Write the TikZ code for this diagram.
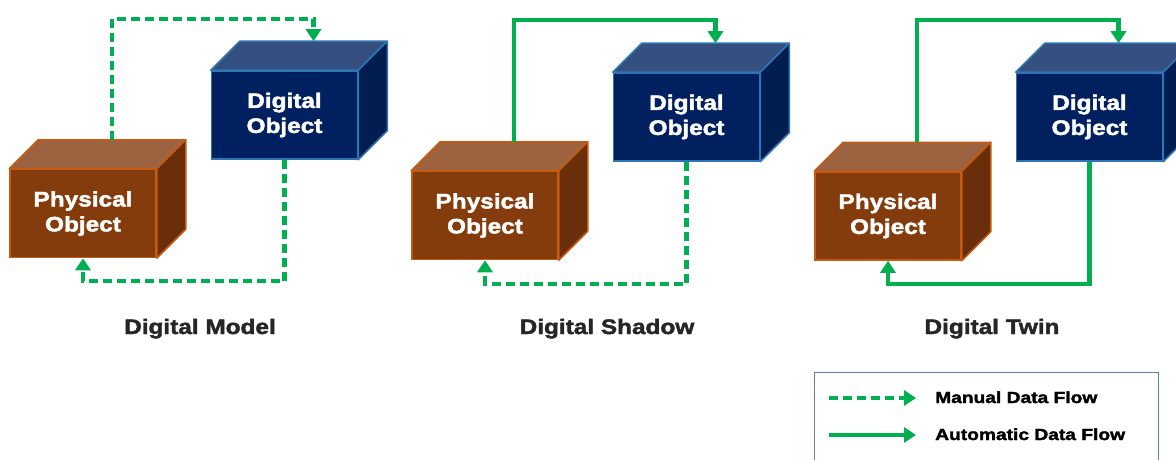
\documentclass[tikz,border=0pt]{standalone}
\usepackage{fontspec}
\setmainfont{Liberation Sans}
\newfontfamily\boxfont[FakeStretch=1.16,FakeBold=2]{Liberation Sans Bold}
\newfontfamily\legfont[FakeStretch=1.2,FakeBold=2.2]{Liberation Sans Bold}
\usetikzlibrary{arrows.meta,calc}
\definecolor{physfront}{HTML}{843C0C}
\definecolor{phystop}{HTML}{9D6340}
\definecolor{physside}{HTML}{6A2F0A}
\definecolor{physedge}{HTML}{C55A11}
\definecolor{digfront}{HTML}{002060}
\definecolor{digtop}{HTML}{344F80}
\definecolor{digside}{HTML}{021D4F}
\definecolor{digedge}{HTML}{2E75B6}
\definecolor{flow}{HTML}{00B050}
\definecolor{captxt}{HTML}{262626}
\definecolor{legedge}{HTML}{5B7DB1}
\tikzset{
  physbox/.style={draw=physedge, fill=physfront, line width=1.5pt, minimum width=146pt, minimum height=88pt, inner sep=0pt,
    text=white, font=\boxfont\fontsize{21}{25}\selectfont, align=center},
  digbox/.style={physbox, draw=digedge, fill=digfront},
  flowline/.style={draw=flow, line width=4.2pt, -{Triangle[width=15pt,length=12pt]}},
  manual/.style={flowline, dash pattern=on 9pt off 5pt},
  automatic/.style={flowline},
  caption/.style={text=captxt, font=\boxfont\fontsize{21}{25}\selectfont, anchor=base},
  legtext/.style={text=black, font=\legfont\fontsize{16}{19}\selectfont, anchor=base west, inner sep=0pt}
}
\newcommand{\cubefaces}[4]{% node, top colour, side colour, edge colour
  \filldraw[fill=#2, draw=#4, line width=1.5pt, line join=round]
    (#1.north west) -- ++(29,-29) -- ($(#1.north east)+(29,-29)$) -- (#1.north east) -- cycle;
  \filldraw[fill=#3, draw=#4, line width=1.5pt, line join=round]
    (#1.north east) -- ++(29,-29) -- ($(#1.south east)+(29,-29)$) -- (#1.south east) -- cycle;
}
\begin{document}
\begin{tikzpicture}[x=1pt, y=-1pt]
\clip (0,0) rectangle (1176,460);
\fill[white] (0,0) rectangle (1176,460);

% ---------- Panel 1: Digital Model ----------
\node[physbox] (p1) at (83,213.5) {Physical\\Object};
\node[digbox] (d1) at (284.5,115) {Digital\\Object};
\cubefaces{p1}{phystop}{physside}{physedge}
\cubefaces{d1}{digtop}{digside}{digedge}
\coordinate (p1b) at ($(p1.north)+(29,-29)$);
\coordinate (d1b) at ($(d1.north)+(29,-29)$);
\draw[manual] (p1b) -- ++(0,-121) -| (d1b);
\draw[manual] (d1.south) -- ++(0,121) -| (p1.south);
\node[caption] (c1) at (200,334) {Digital Model};

% ---------- Panel 2: Digital Shadow ----------
\node[physbox] (p2) at (485,215.5) {Physical\\Object};
\node[digbox] (d2) at (686.5,117) {Digital\\Object};
\cubefaces{p2}{phystop}{physside}{physedge}
\cubefaces{d2}{digtop}{digside}{digedge}
\coordinate (p2b) at ($(p2.north)+(29,-29)$);
\coordinate (d2b) at ($(d2.north)+(29,-29)$);
\draw[automatic] (p2b) -- ++(0,-122) -| (d2b);
\draw[manual] (d2.south) -- ++(0,122) -| (p2.south);
\node[caption] (c2) at (607,334) {Digital Shadow};

% ---------- Panel 3: Digital Twin ----------
\node[physbox] (p3) at (888,216) {Physical\\Object};
\node[digbox] (d3) at (1089.5,117) {Digital\\Object};
\cubefaces{p3}{phystop}{physside}{physedge}
\cubefaces{d3}{digtop}{digside}{digedge}
\coordinate (p3b) at ($(p3.north)+(29,-29)$);
\coordinate (d3b) at ($(d3.north)+(29,-29)$);
\draw[automatic] (p3b) -- ++(0,-122) -| (d3b);
\draw[automatic] (d3.south) -- ++(0,122) -| (p3.south);
\node[caption] (c3) at (992,334) {Digital Twin};

% ---------- Legend ----------
\draw[legedge, line width=1pt] (814,372) rectangle (1158,475);
\coordinate (m0) at (829,398);
\coordinate (m1) at (916,398);
\coordinate (a0) at (829,435);
\coordinate (a1) at (916,435);
\draw[manual] (m0) -- (m1);
\draw[automatic] (a0) -- (a1);
\node[legtext] (l1) at (935,403) {Manual Data Flow};
\node[legtext] (l2) at (935,440) {Automatic Data Flow};
\end{tikzpicture}
\end{document}
